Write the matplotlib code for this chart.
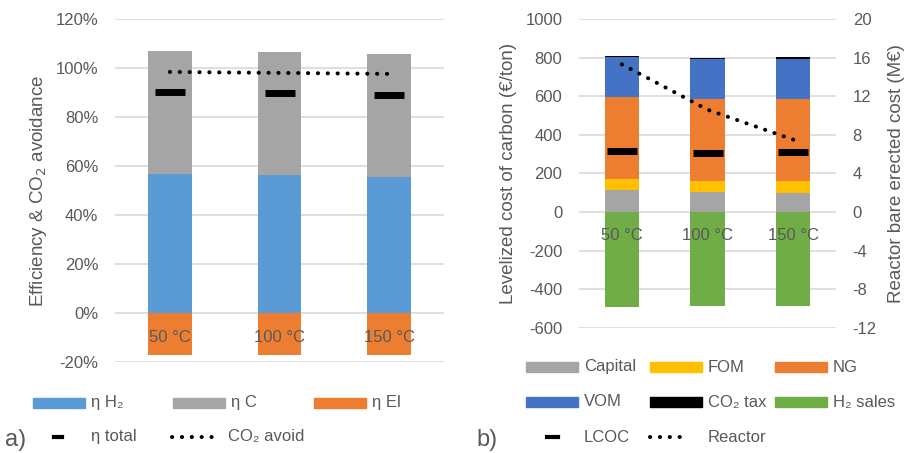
import numpy as np
import matplotlib.pyplot as plt
from matplotlib.patches import Rectangle
from matplotlib.lines import Line2D
from matplotlib.ticker import PercentFormatter

plt.rcParams['font.family'] = ['Liberation Sans', 'DejaVu Sans']
plt.rcParams['axes.unicode_minus'] = False

temps = ['50 °C', '100 °C', '150 °C']

# a) efficiency & CO2 avoidance
eta_h2 = [0.568, 0.564, 0.557]
eta_c = [0.500, 0.500, 0.499]
eta_el = [-0.170, -0.170, -0.170]
eta_total = [0.901, 0.897, 0.889]
co2_avoid = [0.984, 0.980, 0.976]

# b) levelized cost of carbon (€/ton) and reactor cost (M€)
capital = [114, 104, 100]
fom = [59, 57, 59]
ng = [425, 426, 426]
vom = [205, 206, 208]
co2_tax = [7, 5, 8]
h2_sales = [-494, -490, -490]
lcoc = [314, 304, 309]
reactor = [15.3, 10.6, 7.5]

W, H = 907, 453
GREY_TXT = '#595959'
GRID = '#d9d9d9'
c_blue = '#5B9BD5'
c_grey = '#A5A5A5'
c_orange = '#ED7D31'
c_yellow = '#FFC000'
c_dblue = '#4472C4'
c_green = '#70AD47'

fig = plt.figure(figsize=(W / 100, H / 100), dpi=100)


def rect(x0, y0, x1, y1):
    return [x0 / W, 1 - y1 / H, (x1 - x0) / W, (y1 - y0) / H]


dot_style = dict(color='black', lw=2.9, linestyle=(0, (0.05, 2.4)),
                 dash_capstyle='round')
fs = 12
fs_lab = 13.5


def style_axis(ax):
    for s in ax.spines.values():
        s.set_visible(False)
    ax.tick_params(length=0, labelsize=fs, labelcolor=GREY_TXT, pad=12)
    ax.set_xticks([])


x = np.arange(len(temps))
bw = 0.4

# ---- a)
ax1 = fig.add_axes(rect(115, 19, 444, 362))
ax1.set_axisbelow(True)
ax1.yaxis.grid(True, color=GRID, lw=1.2)
ax1.bar(x, eta_h2, bw, color=c_blue)
ax1.bar(x, eta_c, bw, bottom=eta_h2, color=c_grey)
ax1.bar(x, eta_el, bw, color=c_orange)
ax1.plot(x, eta_total, ls='none', marker='_', ms=21, mew=5, color='black')
ax1.plot(x, co2_avoid, **dot_style)
ax1.set_xlim(-0.5, 2.5)
ax1.set_ylim(-0.2, 1.2)
ax1.set_yticks(np.arange(-0.2, 1.21, 0.2))
ax1.yaxis.set_major_formatter(PercentFormatter(1.0, decimals=0))
style_axis(ax1)
ax1.set_ylabel('Efficiency & CO$_2$ avoidance', fontsize=fs_lab, color=GREY_TXT)
ax1.yaxis.set_label_coords(-(115 - 49) / 329, 0.5)
for i, t in enumerate(temps):
    ax1.annotate(t, (i, 0), xytext=(0, -17.3), textcoords='offset points',
                 ha='center', va='center', fontsize=fs, color=GREY_TXT)

# ---- b)
ax2 = fig.add_axes(rect(579, 19, 836, 327.7))
ax2.set_axisbelow(True)
ax2.yaxis.grid(True, color=GRID, lw=1.2)
bottom = np.zeros(3)
for vals, col in [(capital, c_grey), (fom, c_yellow), (ng, c_orange),
                  (vom, c_dblue), (co2_tax, 'black')]:
    ax2.bar(x, vals, bw, bottom=bottom, color=col)
    bottom += np.array(vals)
ax2.bar(x, h2_sales, bw, color=c_green)
ax2.plot(x, lcoc, ls='none', marker='_', ms=21, mew=5, color='black')
ax2.set_xlim(-0.5, 2.5)
ax2.set_ylim(-600, 1000)
ax2.set_yticks(np.arange(-600, 1001, 200))
style_axis(ax2)
ax2.set_ylabel('Levelized cost of carbon (€/ton)', fontsize=fs_lab, color=GREY_TXT)
ax2.yaxis.set_label_coords(-(579 - 517) / 257, 0.5)
for i, t in enumerate(temps):
    ax2.annotate(t, (i, 0), xytext=(0, -17.3), textcoords='offset points',
                 ha='center', va='center', fontsize=fs, color=GREY_TXT)

ax3 = ax2.twinx()
ax3.plot(x, reactor, **dot_style)
ax3.set_ylim(-12, 20)
ax3.set_yticks(np.arange(-12, 21, 4))
style_axis(ax3)
ax3.set_ylabel('Reactor bare erected cost (M€)', fontsize=fs_lab, color=GREY_TXT)
ax3.yaxis.set_label_coords(1 + (888 - 836) / 257, 0.5)


# ---- legends drawn in figure pixels
def leg_patch(x0, x1, yc, color, label):
    fig.add_artist(Rectangle((x0 / W, 1 - (yc + 5) / H), (x1 - x0) / W, 10 / H,
                             color=color, transform=fig.transFigure))
    fig.text((x1 + 6) / W, 1 - yc / H, label, va='center', ha='left',
             fontsize=fs, color=GREY_TXT)


def leg_line(x0, x1, yc, label, txt_x, dotted):
    if dotted:
        ln = Line2D([x0 / W, x1 / W], [1 - yc / H] * 2, transform=fig.transFigure,
                    **dot_style)
    else:
        ln = Line2D([x0 / W, x1 / W], [1 - yc / H] * 2, transform=fig.transFigure,
                    color='black', lw=3)
    fig.add_artist(ln)
    fig.text(txt_x / W, 1 - yc / H, label, va='center', ha='left',
             fontsize=fs, color=GREY_TXT)


leg_patch(33, 85, 403, c_blue, 'η H₂')
leg_patch(173, 225, 403, c_grey, 'η C')
leg_patch(314, 366, 403, c_orange, 'η El')
leg_line(54, 62, 437, 'η total', 91, False)
leg_line(172, 221, 437, 'CO₂ avoid', 228, True)
fig.text(5 / W, 1 - 440 / H, 'a)', fontsize=17, color=GREY_TXT, va='center')

leg_patch(526, 578, 367, c_grey, 'Capital')
leg_patch(650, 702, 367, c_yellow, 'FOM')
leg_patch(775, 827, 367, c_orange, 'NG')
leg_patch(526, 578, 402, c_dblue, 'VOM')
leg_patch(650, 702, 402, 'black', 'CO₂ tax')
leg_patch(775, 827, 402, c_green, 'H₂ sales')
leg_line(547, 558, 437, 'LCOC', 584, False)
leg_line(650, 688, 437, 'Reactor', 708, True)
fig.text(476 / W, 1 - 440 / H, 'b)', fontsize=17, color=GREY_TXT, va='center')

fig.savefig('out.png', dpi=100)
